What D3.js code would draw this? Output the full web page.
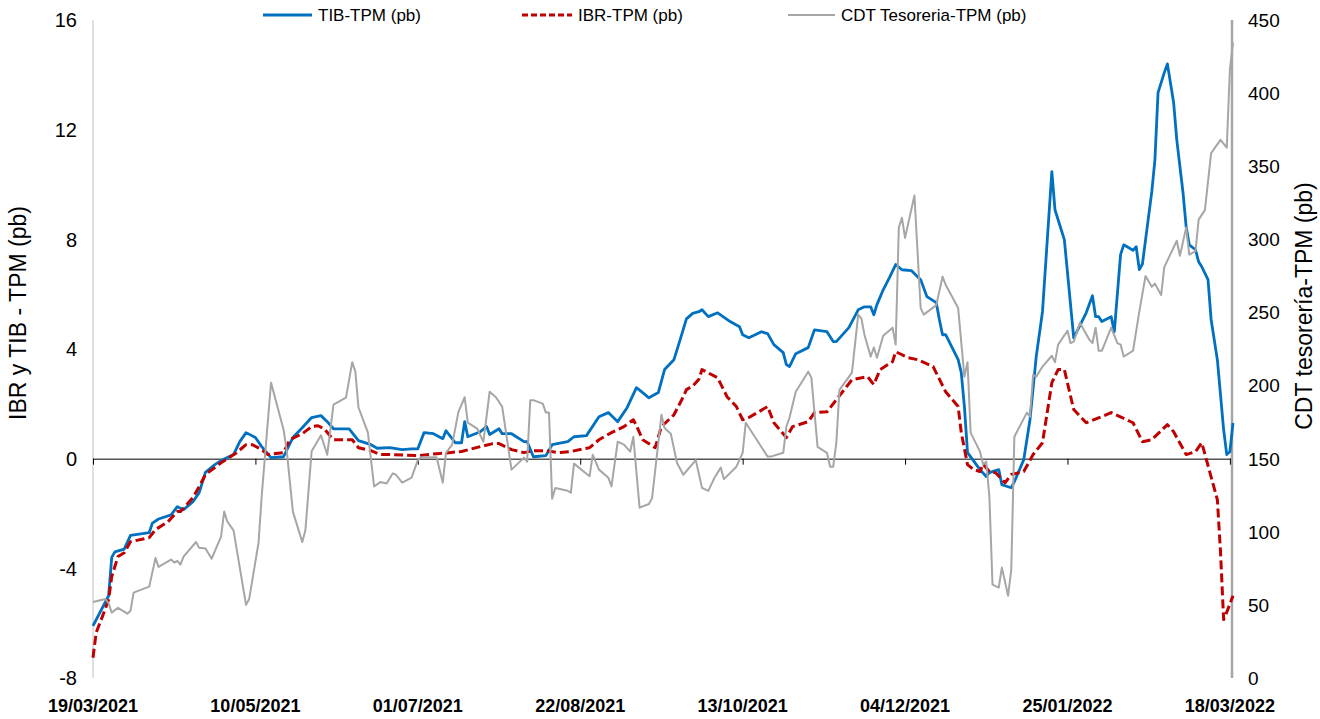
<!DOCTYPE html>
<html>
<head>
<meta charset="utf-8">
<script src="https://cdnjs.cloudflare.com/ajax/libs/d3/7.8.5/d3.min.js"></script>
<style>
    body { margin: 0; background: #fff; }
    svg { font-family: "Liberation Sans", Arial, sans-serif; }
    .tickLabel { font-size: 20px; fill: #000; }
    .tickLabelR { font-size: 19px; fill: #000; }
    .dateLabel { font-size: 18px; font-weight: bold; fill: #000; }
    .axisTitle { font-size: 23px; fill: #000; }
    .legendText { font-size: 17px; fill: #000; }
</style>
</head>
<body>
<div id="chart"></div>
<script>
var width = 1320;
var height = 719;

// dias desde 19/03/2021, valor
var tib = [
    [0,-6.1],[5,-5.0],[6,-3.6],[7,-3.4],[10,-3.3],[12,-2.8],[18,-2.7],[19,-2.35],[21,-2.2],[25,-2.05],
    [27,-1.75],[29,-1.86],[32,-1.57],[34,-1.24],[36,-0.5],[39,-0.22],[41,-0.07],[45,0.15],[47,0.62],[49,0.95],
    [52,0.77],[54,0.44],[57,0.04],[61,0.07],[64,0.77],[67,1.13],[70,1.5],[73,1.57],[75,1.35],[77,1.09],
    [82,1.09],[85,0.66],[89,0.51],[91,0.38],[95,0.4],[99,0.33],[102,0.36],[104,0.36],[106,0.95],[109,0.91],
    [112,0.73],[113,1.02],[116,0.58],[118,0.58],[119,1.35],[120,0.8],[124,0.98],[126,1.17],[127,0.88],[130,1.09],
    [131,0.91],[134,0.91],[138,0.62],[139,0.62],[141,0.07],[145,0.11],[147,0.51],[152,0.62],[154,0.8],[158,0.84],
    [162,1.53],[165,1.68],[168,1.35],[171,1.86],[174,2.59],[176,2.41],[178,2.22],[181,2.41],[183,3.25],[186,3.61],
    [188,4.34],[190,5.1],[192,5.3],[194,5.36],[195,5.43],[197,5.18],[200,5.32],[204,5.0],[207,4.81],[208,4.52],
    [210,4.41],[214,4.63],[216,4.56],[218,4.16],[221,3.87],[222,3.43],[223,3.36],[225,3.83],[229,4.05],[231,4.7],
    [235,4.63],[237,4.27],[238,4.27],[242,4.78],[245,5.43],[247,5.54],[249,5.54],[250,5.25],[251,5.62],[253,6.16],
    [255,6.6],[257,7.08],[259,6.89],[262,6.86],[265,6.53],[267,5.91],[270,5.69],[271,5.07],[272,4.52],[273,4.52],
    [277,3.61],[278,3.14],[279,1.9],[280,0.22],[284,-0.4],[286,-0.65],[287,-0.51],[290,-0.4],[291,-0.95],[294,-1.06],
    [295,-0.84],[298,-0.04],[300,1.42],[302,3.72],[304,5.36],[307,10.47],[308,9.08],[311,7.99],[314,4.41],[318,5.32],
    [320,5.94],[321,5.18],[322,5.18],[323,5.0],[326,5.18],[327,4.63],[329,7.44],[330,7.8],[333,7.6],[334,7.73],
    [335,6.9],[336,7.1],[339,9.74],[340,10.9],[341,13.35],[343,14.08],[344,14.4],[346,12.98],[347,11.63],[349,9.7],
    [350,8.46],[351,7.8],[353,7.62],[354,7.18],[355,7.0],[357,6.53],[358,5.07],[360,3.6],[362,1.06],[363,0.15],
    [364,0.25],[365,1.3]
];

var ibr = [
    [0,-7.26],[1,-6.35],[3,-5.76],[5,-5.14],[6,-4.3],[8,-3.57],[10,-3.43],[12,-3.03],[18,-2.88],[20,-2.59],
    [24,-2.3],[27,-1.93],[28,-1.93],[32,-1.42],[34,-1.02],[36,-0.58],[41,-0.15],[46,0.22],[49,0.51],[51,0.51],
    [54,0.33],[56,0.15],[61,0.22],[63,0.69],[67,0.91],[70,1.17],[72,1.2],[74,1.09],[77,0.69],[83,0.69],
    [85,0.4],[89,0.29],[92,0.15],[95,0.15],[104,0.11],[110,0.18],[114,0.22],[118,0.26],[124,0.44],[128,0.55],
    [130,0.55],[134,0.33],[138,0.22],[141,0.29],[145,0.29],[149,0.22],[153,0.26],[157,0.36],[159,0.4],[162,0.69],
    [166,0.95],[170,1.17],[173,1.42],[174,1.2],[176,0.69],[180,0.4],[182,1.17],[186,1.6],[189,2.26],[190,2.52],
    [192,2.65],[194,2.9],[195,3.25],[200,2.95],[203,2.26],[206,1.9],[208,1.42],[210,1.5],[216,1.9],[218,1.31],
    [222,0.77],[224,1.17],[229,1.35],[231,1.68],[235,1.71],[238,2.15],[243,2.88],[248,2.99],[250,2.7],[252,3.25],
    [256,3.54],[257,3.9],[261,3.68],[264,3.61],[269,3.36],[273,2.44],[277,1.9],[278,0.95],[280,-0.22],[282,-0.4],
    [284,-0.47],[285,-0.2],[287,-0.47],[289,-0.51],[292,-0.88],[294,-0.58],[298,-0.47],[301,0.15],[304,0.58],[307,2.77],
    [309,3.25],[311,3.25],[314,1.79],[318,1.31],[323,1.53],[326,1.68],[333,1.31],[336,0.62],[339,0.69],[344,1.24],
    [346,0.98],[350,0.15],[353,0.26],[355,0.58],[360,-1.5],[361,-3.4],[362,-5.87],[363,-5.6],[364,-5.3],[365,-5.0]
];

var cdt = [
    [0,52],[4,54],[5,51],[6,44.7],[8,48],[11,44],[12,46],[13,58.4],[18,62.5],[20,82],
    [21,76],[25,81],[26,79],[27,80],[28,77.5],[29,83],[33,93],[34,89],[36,88.5],[38,81.6],
    [41,96.7],[42,113.8],[43,107],[45,101],[49,50],[50,54],[53,92.5],[54,124],[57,202],[61,170],
    [62,156],[64,113.8],[67,93],[68,101],[70,155],[73,166],[75,152.7],[77,187],[81,191.7],[83,216],
    [84,209.5],[85,185],[88,168],[90,131],[92,134],[94,133],[96,140],[97,139],[99,133.6],[102,137],
    [104,149],[105,151],[110,151],[112,133.6],[113,154],[115,159.6],[117,182],[119,192],[120,174.6],[123,170.5],
    [125,161.6],[127,195.8],[129,192],[131,185.6],[134,142.5],[138,150.7],[139,148],[140,190],[141,190],[144,187.6],
    [145,181.5],[146,181.5],[147,122.6],[148,130],[152,128],[153,126.7],[154,146.6],[159,138],[160,152.7],[162,142.5],
    [165,137],[166,131],[168,161.6],[170,159.6],[172,154.8],[173,165],[175,116.5],[178,119],[179,123],[182,180],
    [183,171],[185,167],[187,147],[189,139],[193,149],[195,130],[197,128],[199,137],[201,144],[202,136],
    [206,144.5],[208,154],[209,174.6],[214,158],[216,151.4],[217,151.4],[221,154],[222,172],[223,178],[225,195.8],
    [229,209.5],[230,205.4],[232,158],[235,154],[236,144.5],[237,144.5],[238,161],[239,197],[243,208.8],[245,248.5],
    [246,246],[247,234.8],[249,219.8],[250,226],[251,219],[253,234],[256,239.6],[257,228],[258,308],[259,314.8],
    [260,301],[263,330],[265,253],[266,248.5],[270,255],[272,274.5],[273,269],[277,253],[279,206],[280,216],
    [281,167.8],[284,154.8],[285,146],[286,148],[287,124],[288,63.8],[290,61.8],[291,75.5],[293,56.3],[294,74],
    [295,165],[299,181.5],[300,178.7],[301,207.4],[302,206],[304,213],[307,220.4],[308,216],[309,228],[312,237.5],
    [313,229],[314,230],[316,243],[319,231.4],[320,229],[321,239.6],[322,223.8],[323,223.8],[326,239.6],[328,229],
    [329,228],[330,219.8],[333,223.8],[335,250.5],[337,275],[339,267.6],[340,269.7],[342,262],[343,281],[347,299],
    [348,288.8],[350,308],[351,289.5],[353,292],[354,313.5],[356,320],[358,359],[361,368],[363,362.7],[364,416],
    [365,434.5]
];

var fechasEje = ["19/03/2021", "10/05/2021", "01/07/2021", "22/08/2021", "13/10/2021", "04/12/2021", "25/01/2022", "18/03/2022"];
var ticksIzq = [-8, -4, 0, 4, 8, 12, 16];
var ticksDer = [0, 50, 100, 150, 200, 250, 300, 350, 400, 450];
var leyenda = ["TIB-TPM (pb)", "IBR-TPM (pb)", "CDT Tesoreria-TPM (pb)"];

var parseFecha = d3.timeParse("%d/%m/%Y");
var inicio = parseFecha(fechasEje[0]);

var xScale = d3.scaleTime()
    .domain([inicio, d3.timeDay.offset(inicio, 365)])
    .range([93, 1233]);

var yIzq = d3.scaleLinear()
    .domain([-8, 16])
    .range([678, 20]);

var yDer = d3.scaleLinear()
    .domain([0, 450])
    .range([678, 20]);

var svgCanvas = d3.select("#chart")
    .append("svg")
    .attr("width", width)
    .attr("height", height);

// ejes verticales
svgCanvas.append("line")
    .attr("x1", xScale.range()[0]).attr("x2", xScale.range()[0])
    .attr("y1", yIzq(16)).attr("y2", yIzq(-8))
    .attr("stroke", "#c0c0c0")
    .attr("stroke-width", 1);

svgCanvas.append("line")
    .attr("x1", xScale.range()[1] - 1).attr("x2", xScale.range()[1] - 1)
    .attr("y1", yDer(450)).attr("y2", yDer(0))
    .attr("stroke", "#a6a6a6")
    .attr("stroke-width", 2.5);

// linea del cero con ticks
var xAxis = d3.axisBottom(xScale)
    .tickValues(fechasEje.map(parseFecha))
    .tickSize(6)
    .tickFormat("");

var gx = svgCanvas.append("g")
    .attr("transform", "translate(0," + yIzq(0) + ")")
    .call(xAxis);
gx.select(".domain")
    .attr("d", "M" + xScale.range()[0] + ",0.5H" + (xScale.range()[1] - 2));
gx.selectAll("line").attr("stroke", "#000");

svgCanvas.selectAll("text.dateLabel")
    .data(fechasEje)
    .enter()
    .append("text")
    .attr("class", "dateLabel")
    .attr("x", function(d) { return xScale(parseFecha(d)); })
    .attr("y", 712)
    .attr("text-anchor", "middle")
    .text(function(d) { return d; });

svgCanvas.selectAll("text.tickLabel")
    .data(ticksIzq)
    .enter()
    .append("text")
    .attr("class", "tickLabel")
    .attr("x", 77)
    .attr("y", function(d) { return yIzq(d); })
    .attr("dy", "0.36em")
    .attr("text-anchor", "end")
    .text(function(d) { return d; });

svgCanvas.selectAll("text.tickLabelR")
    .data(ticksDer)
    .enter()
    .append("text")
    .attr("class", "tickLabelR")
    .attr("x", 1248)
    .attr("y", function(d) { return yDer(d); })
    .attr("dy", "0.36em")
    .text(function(d) { return d; });

svgCanvas.append("text")
    .attr("class", "axisTitle")
    .attr("transform", "translate(26,313) rotate(-90)")
    .attr("text-anchor", "middle")
    .text("IBR y TIB - TPM (pb)");

svgCanvas.append("text")
    .attr("class", "axisTitle")
    .attr("transform", "translate(1312,306) rotate(-90)")
    .attr("text-anchor", "middle")
    .text("CDT tesorería-TPM (pb)");

// series
function linea(escala) {
    return d3.line()
        .x(function(d) { return xScale(d3.timeDay.offset(inicio, d[0])); })
        .y(function(d) { return escala(d[1]); });
}

svgCanvas.append("path")
    .datum(tib)
    .attr("d", linea(yIzq))
    .attr("fill", "none")
    .attr("stroke", "#0070c0")
    .attr("stroke-width", 2.8)
    .attr("stroke-linejoin", "round");

svgCanvas.append("path")
    .datum(ibr)
    .attr("d", linea(yIzq))
    .attr("fill", "none")
    .attr("stroke", "#c00000")
    .attr("stroke-width", 3)
    .attr("stroke-dasharray", "9,4")
    .attr("stroke-linejoin", "round");

svgCanvas.append("path")
    .datum(cdt)
    .attr("d", linea(yDer))
    .attr("fill", "none")
    .attr("stroke", "#a6a6a6")
    .attr("stroke-width", 2)
    .attr("stroke-linejoin", "round");

// leyenda
var legItems = [
    {x1: 263, x2: 312, color: "#0070c0", dash: null, w: 2.8},
    {x1: 522, x2: 572, color: "#c00000", dash: "6,3", w: 3},
    {x1: 788, x2: 835, color: "#a6a6a6", dash: null, w: 2}
];

legItems.forEach(function(it, k) {
    svgCanvas.append("line")
        .attr("x1", it.x1).attr("x2", it.x2)
        .attr("y1", 15).attr("y2", 15)
        .attr("stroke", it.color)
        .attr("stroke-width", it.w)
        .attr("stroke-dasharray", it.dash);
    svgCanvas.append("text")
        .attr("class", "legendText")
        .attr("x", it.x2 + 6)
        .attr("y", 15)
        .attr("dy", "0.36em")
        .text(leyenda[k]);
});
</script>
</body>
</html>
